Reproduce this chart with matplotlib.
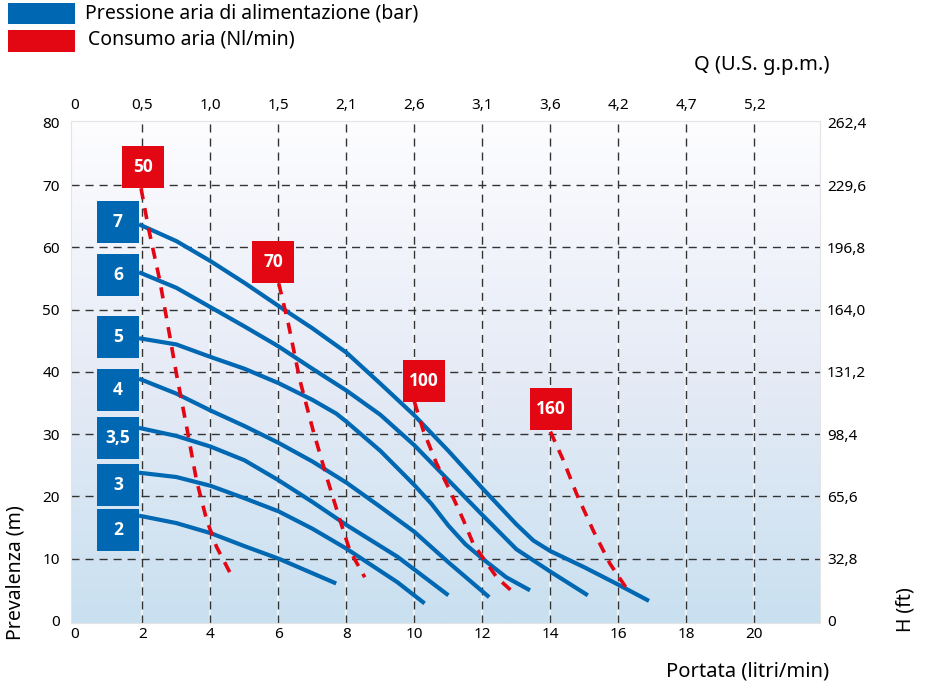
import matplotlib.pyplot as plt
import numpy as np
from matplotlib.patches import Rectangle
from matplotlib.colors import LinearSegmentedColormap

plt.rcParams['font.family'] = ['Noto Sans', 'DejaVu Sans']

BLUE = '#0068b3'
RED = '#e30613'

# Curve di prevalenza per pressione aria (bar)
pressioni = ['7', '6', '5', '4', '3,5', '3', '2']
q_7 = [1.9, 3.0, 4.0, 5.0, 6.0, 7.0, 8.0, 9.0, 10.0, 11.0, 12.0, 13.0, 13.5, 14.0, 15.0, 16.0, 16.9]
h_7 = [63.7, 61.0, 57.8, 54.3, 50.6, 47.0, 43.1, 38.1, 33.0, 27.3, 21.3, 15.5, 12.9, 11.2, 8.6, 5.8, 3.2]
q_6 = [1.9, 3.0, 4.0, 5.0, 6.0, 7.0, 8.0, 9.0, 10.0, 11.0, 12.0, 13.0, 14.0, 15.1]
h_6 = [56.0, 53.5, 50.4, 47.3, 44.1, 40.5, 37.0, 33.1, 28.2, 22.6, 17.0, 11.5, 7.9, 4.1]
q_5 = [1.9, 3.0, 4.0, 5.0, 6.0, 7.0, 7.7, 8.0, 9.0, 10.0, 10.5, 11.0, 11.5, 12.0, 12.7, 13.4]
h_5 = [45.4, 44.4, 42.4, 40.5, 38.2, 35.5, 33.3, 32.0, 27.3, 21.8, 18.8, 15.3, 12.3, 10.0, 7.0, 4.9]
q_4 = [1.9, 3.0, 4.0, 5.0, 6.0, 7.0, 8.0, 9.0, 10.0, 11.0, 12.2]
h_4 = [38.9, 36.5, 33.8, 31.3, 28.6, 25.6, 22.2, 18.3, 14.3, 9.4, 3.8]
q_35 = [1.9, 3.0, 4.0, 5.0, 6.0, 7.0, 8.0, 9.0, 9.5, 11.0]
h_35 = [31.0, 29.7, 28.0, 25.8, 22.6, 19.1, 15.4, 12.0, 10.3, 4.1]
q_3 = [1.9, 3.0, 4.0, 5.0, 6.0, 7.0, 8.0, 9.0, 9.5, 10.3]
h_3 = [23.8, 23.1, 21.7, 19.7, 17.6, 14.8, 11.6, 8.0, 6.2, 2.8]
q_2 = [1.9, 3.0, 4.0, 5.0, 6.0, 7.7]
h_2 = [16.9, 15.7, 14.1, 12.0, 10.0, 6.0]

# Curve di consumo aria (Nl/min)
consumi = ['50', '70', '100', '160']
q_c50 = [1.96, 2.17, 2.51, 2.81, 3.0, 3.3, 3.59, 3.89, 4.18, 4.57]
h_c50 = [69.5, 63.3, 54.7, 45.6, 39.7, 31.2, 22.6, 16.2, 11.9, 7.8]
q_c70 = [6.01, 6.29, 6.63, 7.02, 7.42, 7.81, 8.1, 8.54]
h_c70 = [54.2, 47.8, 38.7, 30.6, 23.1, 16.2, 11.3, 7.0]
q_c100 = [10.0, 10.26, 10.65, 11.04, 11.44, 11.73, 12.07, 12.42, 12.9]
h_c100 = [35.2, 30.6, 25.3, 21.0, 16.2, 12.4, 9.7, 7.0, 4.6]
q_c160 = [14.0, 14.38, 14.77, 15.26, 15.75, 16.34]
h_c160 = [30.4, 25.8, 20.4, 14.5, 9.2, 4.4]

# Assi
x_ticks = [0, 2, 4, 6, 8, 10, 12, 14, 16, 18, 20]
gpm_labels = ['0', '0,5', '1,0', '1,5', '2,1', '2,6', '3,1', '3,6', '4,2', '4,7', '5,2']
y_ticks = [0, 10, 20, 30, 40, 50, 60, 70, 80]
ft_labels = ['0', '32,8', '65,6', '98,4', '131,2', '164,0', '196,8', '229,6', '262,4']

# Posizioni etichette (centro)
lab_blue_y = [64.1, 55.5, 45.6, 37.1, 29.3, 21.8, 14.6]
lab_red_x = [2.01, 5.84, 10.28, 14.01]
lab_red_y = [72.9, 57.6, 38.5, 34.0]

fig = plt.figure(figsize=(9.3, 6.88), dpi=100)
ax = fig.add_axes([71 / 930, 1 - 623 / 688, 749 / 930, 502 / 688])
xlim = (-0.1, 21.93)
ylim = (-0.35, 80.3)

# sfondo sfumato
cmap = LinearSegmentedColormap.from_list('bg', ['#c9e0f0', '#e6ebf6', '#fdfdff'])
grad = np.linspace(0, 1, 256).reshape(-1, 1)
ax.imshow(grad, extent=[xlim[0], xlim[1], ylim[0], ylim[1]], cmap=cmap,
          aspect='auto', zorder=0, origin='lower')

# griglia
for xv in x_ticks[1:]:
    ax.axvline(xv, color='white', lw=1.6, alpha=0.6, zorder=1)
    ax.axvline(xv, color='#333333', lw=1.0, dashes=(5.8, 4.3), zorder=2)
for yv in y_ticks[1:-1]:
    ax.axhline(yv, color='#333333', lw=1.0, dashes=(5.8, 4.3), zorder=2)

curves = [(q_7, h_7), (q_6, h_6), (q_5, h_5), (q_4, h_4), (q_35, h_35), (q_3, h_3), (q_2, h_2)]
for q, h in curves:
    ax.plot(q, h, color=BLUE, lw=3.0, zorder=3, solid_capstyle='butt', solid_joinstyle='round')

air = [(q_c50, h_c50), (q_c70, h_c70), (q_c100, h_c100), (q_c160, h_c160)]
for q, h in air:
    ax.plot(q, h, color=RED, lw=2.6, dashes=(3.1, 2.5), zorder=4, dash_capstyle='butt')

bw, bh = 1.24, 6.75
box_font = dict(color='white', fontsize=12.5, fontweight='bold', family=['Open Sans', 'DejaVu Sans'],
                ha='center', va='center', zorder=6)
for lab, yc in zip(pressioni, lab_blue_y):
    ax.add_patch(Rectangle((1.28 - bw / 2, yc - bh / 2), bw, bh, color=BLUE, zorder=5, lw=0))
    ax.text(1.28, yc, lab, **box_font)
for lab, xc, yc in zip(consumi, lab_red_x, lab_red_y):
    ax.add_patch(Rectangle((xc - bw / 2, yc - bh / 2), bw, bh, color=RED, zorder=5, lw=0))
    ax.text(xc, yc, lab, **box_font)

ax.set_xlim(xlim)
ax.set_ylim(ylim)
ax.set_xticks(x_ticks)
ax.set_yticks(y_ticks)
ax.tick_params(length=0, labelsize=11)
ax.tick_params(axis='y', pad=8)
ax.tick_params(axis='x', pad=3)
for s in ax.spines.values():
    s.set_color('#e4e4e4')

ax_top = ax.twiny()
ax_top.set_xlim(xlim)
ax_top.set_xticks(x_ticks)
ax_top.set_xticklabels(gpm_labels)
ax_top.tick_params(length=0, labelsize=11, pad=6)

ax_r = ax.twinx()
ax_r.set_ylim(ylim)
ax_r.set_yticks(y_ticks)
ax_r.set_yticklabels(ft_labels)
ax_r.tick_params(length=0, labelsize=11, pad=5)
for a in (ax_top, ax_r):
    for s in a.spines.values():
        s.set_visible(False)

# titoli assi
fig.text(16 / 930, 1 - 573 / 688, 'Prevalenza (m)', rotation=90, ha='center', va='center', fontsize=14)
fig.text(905 / 930, 1 - 610 / 688, 'H (ft)', rotation=90, ha='center', va='center', fontsize=14)
fig.text(829 / 930, 1 - 672 / 688, 'Portata (litri/min)', ha='right', va='center', fontsize=14.5)
fig.text(829 / 930, 1 - 65 / 688, 'Q (U.S. g.p.m.)', ha='right', va='center', fontsize=14.5)

# legenda
fig.add_artist(Rectangle((8 / 930, 1 - 24 / 688), 67 / 930, 21 / 688, color=BLUE,
                         transform=fig.transFigure, lw=0))
fig.add_artist(Rectangle((8 / 930, 1 - 52 / 688), 67 / 930, 22 / 688, color=RED,
                         transform=fig.transFigure, lw=0))
fig.text(85 / 930, 1 - 14 / 688, 'Pressione aria di alimentazione (bar)', va='center', fontsize=14)
fig.text(88 / 930, 1 - 40 / 688, 'Consumo aria (Nl/min)', va='center', fontsize=14)

fig.savefig('out.png', dpi=100)
